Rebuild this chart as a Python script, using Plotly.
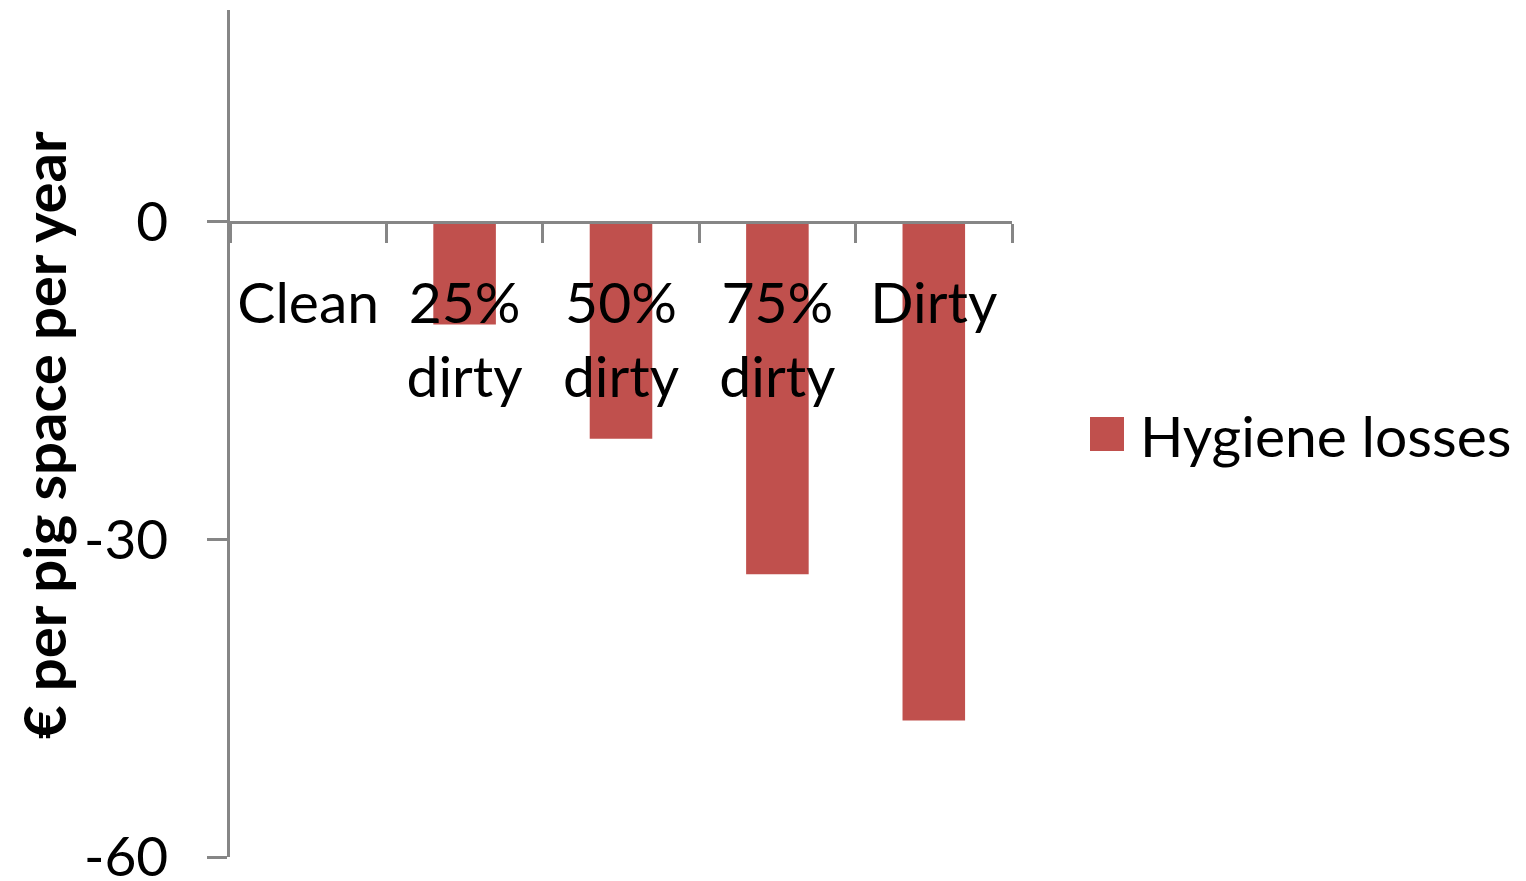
import plotly.graph_objects as go

categories = ["Clean", "25%<br>dirty", "50%<br>dirty", "75%<br>dirty", "Dirty"]
hygiene_losses = [0, -9.7, -20.5, -33.3, -47.1]
y_ticks = [-60, -30, 0]
series_name = "Hygiene losses"
y_title = "€ per pig space per year"

FONT = "Lato"
AXIS = "#868686"
BAR = "#C0504D"

W, H = 1526, 881
OFF = 8  # page body margin
L, T = 230 - OFF, 10 - OFF
R = W - (1012 - OFF)
B = H - (857 - OFF)
PW, PH = W - L - R, H - T - B


def px_x(p):
    return (p - OFF - L) / PW


def px_y(p):
    return (H - B - (p - OFF)) / PH


fig = go.Figure()
fig.add_trace(go.Bar(
    x=categories, y=hygiene_losses, name=series_name,
    marker=dict(color=BAR, line=dict(width=0)),
    width=0.40, showlegend=False,
))

# legend swatch + label
fig.add_shape(type="rect", xref="paper", yref="paper",
              x0=px_x(1090), x1=px_x(1124), y0=px_y(451), y1=px_y(417),
              fillcolor=BAR, line=dict(width=0))
fig.add_annotation(xref="paper", yref="paper", x=px_x(1138), y=px_y(435),
                   xanchor="left", yanchor="middle", showarrow=False,
                   text=series_name, font=dict(size=57, family=FONT, color="black"))

# y-axis title
fig.add_annotation(xref="paper", yref="paper", x=px_x(43), y=px_y(435),
                   xanchor="center", yanchor="middle", showarrow=False,
                   textangle=-90, text="<b>" + y_title + "</b>",
                   font=dict(size=58, family=FONT, color="black"))

fig.update_layout(
    width=W, height=H,
    margin=dict(l=L, r=R, t=T, b=B, autoexpand=False),
    plot_bgcolor="white", paper_bgcolor="white",
    font=dict(family=FONT, size=57, color="black"),
    showlegend=False,
    xaxis=dict(
        anchor="free", position=0.75, automargin=False,
        showline=True, linecolor=AXIS, linewidth=2.5,
        ticks="outside", ticklen=19, tickcolor=AXIS, tickwidth=2.5,
        tickson="boundaries", showgrid=False, zeroline=False,
        tickfont=dict(size=57), ticklabelstandoff=31,
    ),
    yaxis=dict(
        range=[-60, 20], tickvals=y_ticks, ticktext=[str(v) for v in y_ticks],
        automargin=False, ticklabeloverflow="allow",
        showline=True, linecolor=AXIS, linewidth=2.5,
        ticks="outside", ticklen=20, tickcolor=AXIS, tickwidth=2.5,
        showgrid=False, zeroline=False,
        tickfont=dict(size=55), ticklabelstandoff=28,
    ),
)

fig.write_html("out.html")
